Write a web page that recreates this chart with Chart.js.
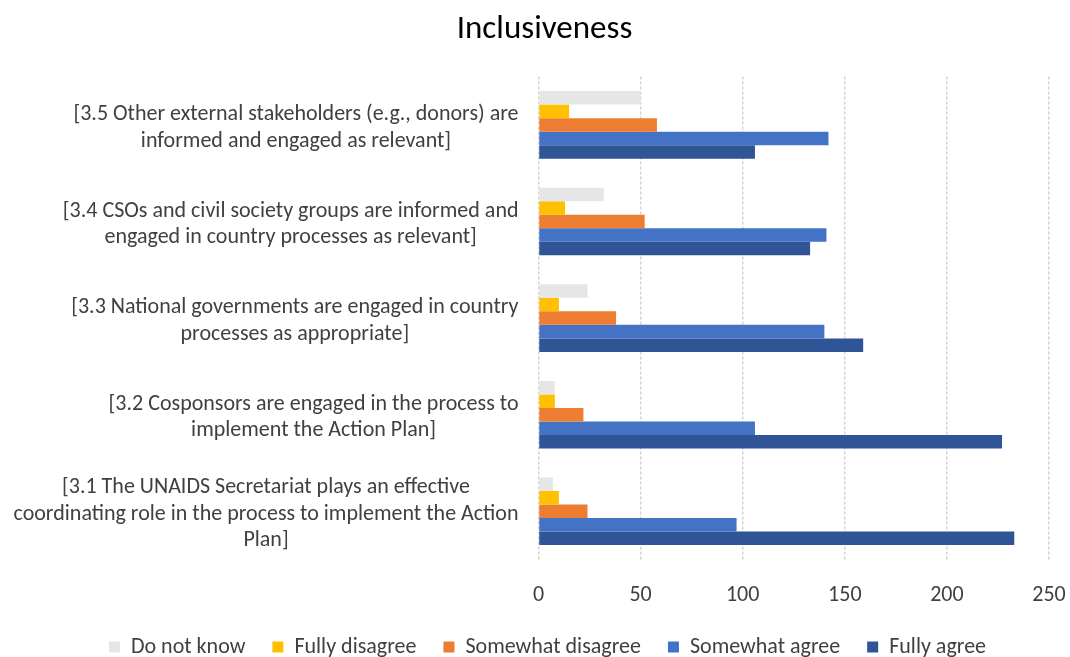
<!DOCTYPE html>
<html>
<head>
<meta charset="utf-8">
<script src="https://cdn.jsdelivr.net/npm/chart.js@4"></script>
<style>
  html, body { margin: 0; padding: 0; background: #fff; }
  #wrap { width: 1070px; height: 657px; }
</style>
</head>
<body>
<div id="wrap"><canvas id="chart" width="1070" height="657"></canvas></div>
<script>
// Inclusiveness survey — horizontal grouped bars

const categories = [
  ['[3.5 Other external stakeholders (e.g., donors) are', 'informed and engaged as relevant]'],
  ['[3.4 CSOs and civil society groups are informed and', 'engaged in country processes as relevant]'],
  ['[3.3 National governments are engaged in country', 'processes as appropriate]'],
  ['[3.2 Cosponsors are engaged in the process to', 'implement the Action Plan]'],
  ['[3.1 The UNAIDS Secretariat plays an effective', 'coordinating role in the process to implement the Action', 'Plan]'],
];

const doNotKnow        = [50, 32, 24, 8, 7];
const fullyDisagree    = [15, 13, 10, 8, 10];
const somewhatDisagree = [58, 52, 38, 22, 24];
const somewhatAgree    = [142, 141, 140, 106, 97];
const fullyAgree       = [106, 133, 159, 227, 233];

const xTicks = [0, 50, 100, 150, 200, 250];

const FONT = 'Carlito, Lato, "Open Sans", sans-serif';
const TEXT = '#404040';
const SIZE = 22;
const LEGEND_PAD = 27;

const ds = (label, data, color) => ({
  label, data,
  backgroundColor: color,
  borderWidth: 0,
  barPercentage: 1.0,
  categoryPercentage: 0.7,
});

// category labels: each block centred on itself, block right-aligned to the axis (Excel style)
const blockLabels = {
  id: 'blockLabels',
  afterLayout(chart) {
    // nudge title and legend to where Excel put them
    chart.titleBlock.left += 10;  chart.titleBlock.right += 10;
    chart.legend.left += 13;      chart.legend.right += 13;
    const lg = chart.legend, h = lg.bottom - lg.top;
    lg.top = 647 - SIZE / 2 - LEGEND_PAD;
    lg.bottom = lg.top + h;
  },
  afterDraw(chart) {
    const y = chart.scales.y, ctx = chart.ctx;
    const lh = SIZE * 1.2;
    ctx.save();
    ctx.font = `${SIZE}px ${FONT}`;
    ctx.fillStyle = TEXT;
    ctx.textAlign = 'center';
    ctx.textBaseline = 'middle';
    categories.forEach((lines, i) => {
      const w = Math.max(...lines.map(l => ctx.measureText(l).width));
      const cx = y.right - 20 - w / 2;
      const cy = y.getPixelForValue(i) + 3;
      lines.forEach((l, k) => ctx.fillText(l, cx, cy + (k - (lines.length - 1) / 2) * lh));
    });
    ctx.restore();
  },
};

new Chart(document.getElementById('chart'), {
  type: 'bar',
  data: {
    labels: categories,
    datasets: [
      ds('Do not know', doNotKnow, '#E7E6E6'),
      ds('Fully disagree', fullyDisagree, '#FFC000'),
      ds('Somewhat disagree', somewhatDisagree, '#ED7D31'),
      ds('Somewhat agree', somewhatAgree, '#4472C4'),
      ds('Fully agree', fullyAgree, '#2F5597'),
    ],
  },
  plugins: [blockLabels],
  options: {
    indexAxis: 'y',
    responsive: false,
    animation: false,
    layout: { padding: { left: 20, right: 21, top: 0, bottom: -34 } },
    plugins: {
      title: {
        display: true,
        text: 'Inclusiveness',
        color: '#000',
        font: { family: FONT, size: 33, weight: 'normal' },
        padding: { top: 10, bottom: 27 },
      },
      legend: {
        position: 'bottom',
        labels: {
          color: TEXT,
          font: { family: FONT, size: SIZE },
          boxWidth: 11, boxHeight: 11,
          padding: LEGEND_PAD,
        },
      },
      tooltip: { enabled: false },
    },
    scales: {
      x: {
        min: 0, max: 250,
        afterBuildTicks: ax => { ax.ticks = xTicks.map(v => ({ value: v })); },
        afterFit: ax => { ax.paddingRight = 0; },
        grid: { color: '#D4D4D4', lineWidth: 1.5, drawTicks: false },
        border: { display: false, dash: [3, 2] },
        ticks: { color: TEXT, font: { family: FONT, size: SIZE }, padding: 23 },
      },
      y: {
        afterFit: ax => { ax.width = 518.5; },
        grid: { display: false },
        border: { display: false },
        ticks: { display: false },
      },
    },
  },
});
</script>
</body>
</html>
